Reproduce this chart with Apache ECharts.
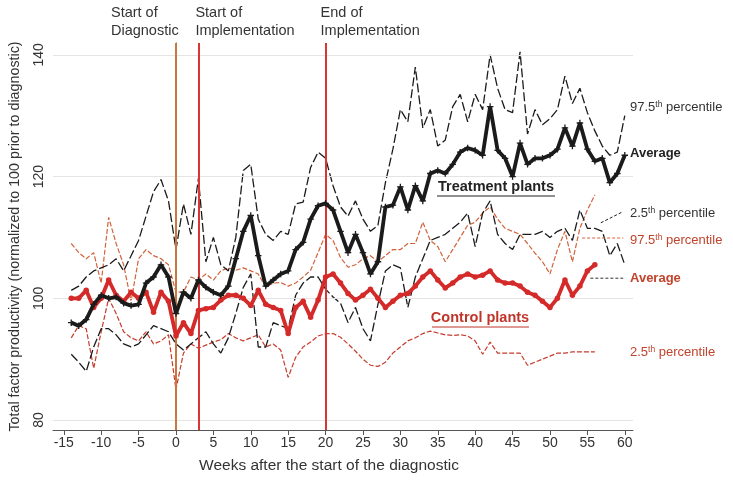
<!DOCTYPE html>
<html><head><meta charset="utf-8">
<script src="https://cdn.jsdelivr.net/npm/echarts@6/dist/echarts.min.js"></script>
<style>html,body{margin:0;padding:0;background:#fff}#c{width:733px;height:481px}</style>
</head><body><div id="c"></div>
<script>
// ---------- data ----------
const tStart = -14;   // treatment series start week (ends at 60)
const cStart = -14;   // control series start week (ends at 56)
const xTicks = [-15,-10,-5,0,5,10,15,20,25,30,35,40,45,50,55,60];
const yTicks = [80,100,120,140];
const events = [0,3,20];
const tAvg = [96,95.5,96.5,99,100.5,100,100.2,99.2,98.8,99,102.5,103.5,105.5,103.5,97.5,101,100,103,101.8,101,100.5,102,106.5,111,113.6,107,102,103,104,104.5,108,109.2,113,115.2,115.6,114.5,111,107.5,110.5,107.5,104,106,115,115.3,118.3,114.5,118.5,116,120.5,121,120.5,122,124,124.7,124.3,123.5,131.5,124.3,123,120,125.5,122,123,123,123.5,124.5,128,125,128.8,124.5,122.5,123,119,120.5,123.5];
const t975 = [101.3,102,103.5,104.5,105,105.5,106.5,104.5,107,109.5,113.5,117.5,119.5,116,108,115.5,110.5,119.7,106,110,105.5,104.5,110,121,122,113,110.5,109.5,111,110.5,115.5,115.8,121.5,124,123,118.5,115,113.5,116,113,111,112,119,124.5,131,129,138,128,131,125,126,131.5,133.5,129,133.5,131,140,134.5,131,130.5,140.5,127,131,128.5,129.5,131,136.5,132,134.5,130.5,127.5,125,123.5,124,130];
const t25 = [90.8,89.5,88,92,95,95,94,92.5,92,92.5,94,95.5,95,94.5,92.5,91.5,92.5,93.5,94.5,92.5,91,93.5,97.5,101.8,104,92,92,96,95.5,95,100.5,102.5,103.5,103.5,101.5,100.2,99.2,96,98.5,95,93,99,104.5,105.5,105,98.5,103.5,106.5,109.5,110,110.5,111.5,112.5,114,108.5,114,116,110.5,109,108,110.5,110.5,110.5,111,110,111,111.5,109.5,114.5,111.5,111.5,111,107,109,105.5];
const cAvg = [100,100,101.3,98.5,100,103,100.5,99.5,101,100,101,97.7,101,99.5,93.8,96,94.2,98,98.3,98.5,99.7,100.5,100.5,100,98.8,101.3,99,98.5,98,94.2,98.5,99.5,96.9,99.7,103.5,104,102.5,100.8,99.7,100.5,101.5,100,98.5,99.5,100.5,100.8,102,103.5,104.5,103,101.7,102.5,103.5,104,103.5,103.8,104.5,103,102.5,102.5,102,101,100.5,99.5,98.5,100,103,100.5,102,104.5,105.5];
const c975 = [109,107.5,106.5,107.5,102.5,113.3,109,105.5,99.5,106.5,108,107,106.5,105.5,101,101,103.5,103,104,103,104.5,105,104.6,105,104.5,104,101.8,102.5,102.6,102,102.5,103.5,104.6,107.5,110.5,109.5,106.7,105.1,105.5,106.5,107,106,107,108,108,109,109,112.5,109.5,108.5,106,108,110,112,112.5,114,115,113,111.5,111,110.5,109,107.4,106,104,108,111,106,111.5,114.5,117];
const c25 = [93.5,95.5,95,88.5,94.5,100,97.5,94.5,93.5,93,94.5,92.5,93,94,85,91,92.5,91.8,92.3,92.8,93.2,94.2,93.5,93,93.5,94,92,92.5,91.5,87,90.3,92,92.8,93.8,94.2,94.2,93.6,92.5,91.3,90,89,88.8,89.5,91,92,93,93.5,94.2,94.6,94.3,94,93.9,94,93.8,93,90.8,92.8,91,91,91,91,89,89.5,90,90.5,91,91,91.2,91.2,91.2,91.2];
// leader lines from line ends to right-hand labels [week, value]
const leadT25 = [[56.8,112.4],[59.7,114.2]];
const leadC975 = [[54.3,109.9],[59.8,109.9]];
const leadCAvg = [[55.4,103.3],[59.8,103.3]];
// text
const eventLabels = ['Start of\nDiagnostic','Start of\nImplementation','End of\nImplementation'];
const yTitle = 'Total factor productivity (normalized to 100 prior to diagnostic)';
const xTitle = 'Weeks after the start of the diagnostic';

// ---------- chart ----------
const FONT = '"Liberation Sans", Arial, sans-serif';
const pairs = (arr, s) => arr.map((v, i) => [s + i, v]);
const chart = echarts.init(document.getElementById('c'), null, {renderer: 'canvas'});
const BLACK = '#1b1b1b', RED = '#d42a2a', RED2 = '#c63b2c', ORANGE = '#d0633a';
const plus = 'path://M4,0H6V4H10V6H6V10H4V6H0V4H4Z';

const option = {
  animation: false,
  backgroundColor: '#fff',
  textStyle: {fontFamily: FONT},
  grid: {left: 53, right: 100, top: 43, bottom: 51, containLabel: false},
  xAxis: {
    type: 'value', min: -16.44, max: 61.1,
    axisLine: {show: true, onZero: false, lineStyle: {color: '#555', width: 1}},
    axisTick: {show: true, customValues: xTicks, length: 5, lineStyle: {color: '#555'}},
    axisLabel: {customValues: xTicks, color: '#333', fontSize: 14, margin: 6, fontFamily: FONT},
    splitLine: {show: false}
  },
  yAxis: {
    type: 'value', min: 78.36, max: 141.94,
    axisLine: {show: true, lineStyle: {color: '#555', width: 1}},
    axisTick: {show: true, customValues: yTicks, length: 5, lineStyle: {color: '#555'}},
    axisLabel: {customValues: yTicks, rotate: 90, color: '#333', fontSize: 14, margin: 7, fontFamily: FONT},
    splitLine: {show: false},
    name: yTitle, nameLocation: 'middle', nameRotate: 90, nameGap: 31,
    nameTextStyle: {color: '#333', fontSize: 14.3, fontFamily: FONT}
  },
  series: [
    {type: 'line', data: [], silent: true, z: 1,
      markLine: {silent: true, symbol: 'none', label: {show: false},
        lineStyle: {color: '#e4e4e4', width: 1, type: 'solid'},
        data: yTicks.map(v => ({yAxis: v}))}},
    {type: 'line', data: [], silent: true, z: 2,
      markLine: {silent: true, symbol: 'none', label: {show: false},
        data: events.map((v, i) => ({xAxis: v,
          lineStyle: {color: i === 0 ? '#c9763f' : '#d93535', width: 2, type: 'solid'}}))}},
    {name: 'c25', type: 'line', data: pairs(c25, cStart), showSymbol: false, z: 3,
      lineStyle: {color: RED2, width: 1.2, type: [5, 2]}},
    {name: 'c975', type: 'line', data: pairs(c975, cStart), showSymbol: false, z: 3,
      lineStyle: {color: ORANGE, width: 1.2, type: [5, 2]}},
    {name: 't25', type: 'line', data: pairs(t25, tStart), showSymbol: false, z: 4,
      lineStyle: {color: BLACK, width: 1.3, type: [9, 3]}},
    {name: 't975', type: 'line', data: pairs(t975, tStart), showSymbol: false, z: 4,
      lineStyle: {color: BLACK, width: 1.3, type: [9, 3]}},
    {type: 'line', data: leadT25, showSymbol: false, z: 4, lineStyle: {color: BLACK, width: 1, type: [3, 2]}},
    {type: 'line', data: leadC975, showSymbol: false, z: 4, lineStyle: {color: ORANGE, width: 1, type: [3, 2]}},
    {type: 'line', data: leadCAvg, showSymbol: false, z: 4, lineStyle: {color: '#333', width: 1, type: [3, 2]}},
    {name: 'cAvg', type: 'line', data: pairs(cAvg, cStart), z: 5,
      showAllSymbol: true, symbol: 'circle', symbolSize: 5.5,
      itemStyle: {color: RED}, lineStyle: {color: RED, width: 3.8}},
    {name: 'tAvg', type: 'line', data: pairs(tAvg, tStart), z: 6,
      showAllSymbol: true, symbol: plus, symbolSize: 6.5,
      itemStyle: {color: BLACK}, lineStyle: {color: BLACK, width: 3.8}}
  ],
  graphic: []
};
chart.setOption(option);

// annotation texts placed relative to the axes
const px = (w, v) => chart.convertToPixel({gridIndex: 0}, [w, v]);
const txt = (x, y, text, extra) => Object.assign({type: 'text', x, y, silent: true,
  style: Object.assign({text, fill: '#333', font: '14.5px ' + FONT, textVerticalAlign: 'middle'}, extra || {})});
const g = [];
const e0 = px(events[0], 100)[0], e1 = px(events[1], 100)[0], e2 = px(events[2], 100)[0];
g.push(txt(e0 - 65, 22, eventLabels[0], {lineHeight: 18}));
g.push(txt(e1 - 3, 22, eventLabels[1], {lineHeight: 18}));
g.push(txt(e2 - 5, 22, eventLabels[2], {lineHeight: 18}));
g.push({type: 'text', silent: true, x: 329, y: 466,
  style: {text: xTitle, fill: '#333', font: '15.5px ' + FONT, textAlign: 'center', textVerticalAlign: 'middle'}});
const supRich = (col) => ({s: {fontSize: 8.5, fill: col, verticalAlign: 'top', padding: [0, 0, 4, 0], fontFamily: FONT}});
const rl = (y, text, col, bold) => ({type: 'text', silent: true, x: 630, y,
  style: {text, fill: col, font: (bold ? 'bold ' : '') + '13px ' + FONT, textVerticalAlign: 'middle', rich: supRich(col)}});
g.push(rl(107, '97.5{s|th} percentile', '#333', false));
g.push(rl(153, 'Average', '#222', true));
g.push(rl(213, '2.5{s|th} percentile', '#333', false));
g.push(rl(240, '97.5{s|th} percentile', '#c0432c', false));
g.push(rl(278, 'Average', '#c0432c', true));
g.push(rl(352, '2.5{s|th} percentile', '#c0432c', false));
// group labels with underline
g.push({type: 'text', silent: true, x: 496, y: 187,
  style: {text: 'Treatment plants', fill: '#222', font: 'bold 14.5px ' + FONT, textAlign: 'center', textVerticalAlign: 'middle'}});
g.push({type: 'line', silent: true, shape: {x1: 437, y1: 196, x2: 555, y2: 196}, style: {stroke: '#222', lineWidth: 1}});
g.push({type: 'text', silent: true, x: 480, y: 318,
  style: {text: 'Control plants', fill: '#c0352a', font: 'bold 14.5px ' + FONT, textAlign: 'center', textVerticalAlign: 'middle'}});
g.push({type: 'line', silent: true, shape: {x1: 432, y1: 327, x2: 529, y2: 327}, style: {stroke: '#c0352a', lineWidth: 1}});
chart.setOption({graphic: g});
</script></body></html>
